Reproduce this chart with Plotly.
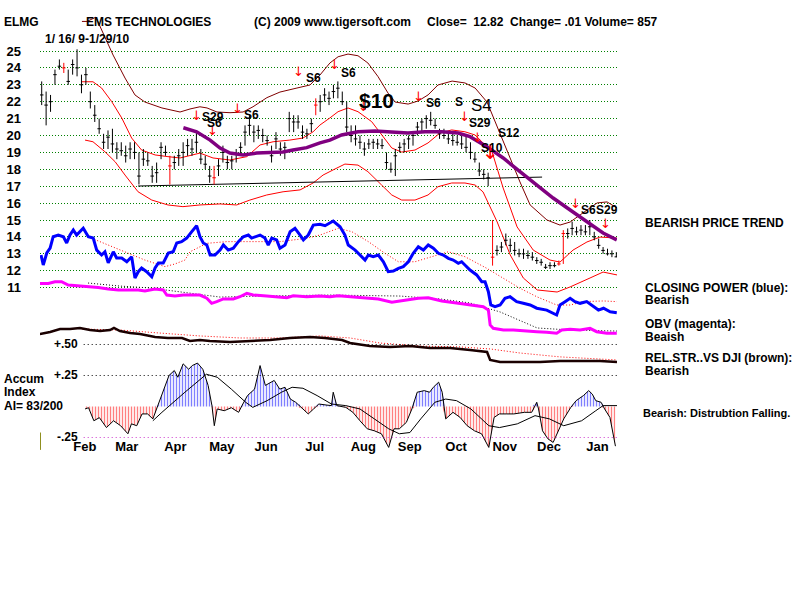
import plotly.graph_objects as go

# ---------------- data ----------------
months = ["Feb", "Mar", "Apr", "May", "Jun", "Jul", "Aug", "Sep", "Oct", "Nov", "Dec", "Jan"]
month_start = [10, 29, 51, 72, 92, 114, 136, 157, 178, 200, 220, 242]   # trading-day index
price_ticks = list(range(11, 26))

bar_day = list(range(0, 261, 2))
bar_high = [23.2, 22.6, 22.4, 23.9, 24.5, 24.3, 23.9, 24.5, 25.1, 23.6,
            24.0, 22.6, 21.8, 21.0, 20.1, 20.3, 20.4, 19.6, 19.6, 19.4,
            19.6, 19.6, 19.0, 19.2, 19.0, 18.2, 18.4, 19.6, 19.4, 18.8,
            18.8, 19.2, 19.6, 19.8, 19.8, 20.2, 19.2, 18.8, 18.2, 18.2,
            18.6, 19.4, 18.8, 18.8, 19.2, 19.6, 20.6, 21.2, 20.6, 20.6,
            20.4, 20.0, 19.4, 20.2, 19.6, 19.6, 21.4, 21.2, 21.2, 20.6,
            20.4, 21.0, 22.2, 22.4, 22.8, 22.6, 23.0, 23.2, 22.6, 22.0,
            20.6, 20.6, 20.0, 19.6, 19.8, 19.8, 19.8, 19.8, 19.0, 18.4,
            19.2, 19.6, 19.8, 20.0, 20.2, 20.8, 21.0, 21.2, 21.4, 21.0,
            20.4, 20.4, 20.2, 20.2, 20.0, 20.0, 20.0, 19.6, 19.0, 18.4,
            18.0, 17.8, 15.0, 13.5, 13.7, 14.2, 13.9, 13.7, 13.3, 13.3,
            13.2, 13.1, 12.8, 12.7, 12.4, 12.5, 12.5, 12.6, 14.4, 14.5,
            14.9, 14.6, 14.7, 14.7, 15.0, 14.3, 13.9, 13.4, 13.3, 13.2,
            13.1]
bar_low = [21.8, 20.6, 21.4, 23.0, 23.9, 23.7, 23.0, 23.6, 23.5, 22.5,
           23.0, 21.6, 20.8, 20.1, 19.2, 19.2, 19.0, 18.6, 18.8, 18.4,
           18.6, 18.6, 17.1, 18.2, 18.2, 17.2, 17.2, 18.6, 18.8, 17.1,
           18.0, 18.2, 18.2, 18.8, 18.8, 19.0, 18.3, 18.0, 17.2, 17.1,
           17.6, 18.4, 18.0, 18.0, 18.4, 18.8, 19.4, 20.0, 19.6, 19.8,
           19.6, 19.4, 18.4, 19.2, 18.8, 18.6, 20.2, 20.2, 20.4, 19.8,
           19.8, 20.2, 21.2, 21.4, 22.0, 21.8, 22.2, 22.2, 21.8, 20.2,
           19.6, 19.4, 19.2, 18.8, 19.2, 19.2, 19.2, 19.2, 18.0, 17.8,
           17.6, 19.0, 19.0, 19.2, 19.4, 20.0, 20.2, 20.4, 20.6, 20.4,
           19.8, 19.8, 19.5, 19.4, 19.4, 19.2, 19.0, 18.6, 18.4, 17.6,
           17.4, 17.0, 12.3, 12.9, 13.1, 13.5, 13.1, 12.9, 12.8, 12.7,
           12.7, 12.6, 12.4, 12.3, 12.1, 12.1, 12.2, 12.3, 12.4, 13.9,
           14.1, 14.1, 14.1, 14.1, 14.1, 13.8, 13.3, 13.0, 12.9, 12.8,
           12.8]
bar_close = [22.4, 21.8, 22.0, 23.6, 24.1, 24.0, 23.2, 24.2, 24.0, 23.0,
             23.6, 22.0, 21.2, 20.4, 19.6, 19.9, 19.5, 19.2, 19.1, 18.8,
             19.2, 19.0, 17.6, 18.6, 18.5, 17.6, 17.8, 19.3, 19.0, 18.2,
             18.4, 18.8, 19.0, 19.4, 19.2, 19.6, 18.6, 18.3, 17.6, 17.5,
             18.2, 19.0, 18.4, 18.5, 18.9, 19.3, 20.2, 20.6, 20.2, 20.3,
             20.0, 19.7, 18.8, 19.8, 19.2, 19.3, 21.0, 20.8, 20.8, 20.2,
             20.1, 20.7, 21.8, 22.0, 22.4, 22.2, 22.6, 22.8, 22.0, 20.5,
             20.0, 19.8, 19.6, 19.2, 19.5, 19.6, 19.5, 19.4, 18.4, 18.0,
             18.8, 19.3, 19.5, 19.8, 20.0, 20.5, 20.8, 21.0, 20.9, 20.6,
             20.1, 20.0, 19.8, 19.7, 19.6, 19.5, 19.3, 19.0, 18.6, 17.9,
             17.7, 17.5, 12.8, 13.2, 13.4, 13.8, 13.5, 13.2, 13.0, 13.0,
             12.9, 12.8, 12.6, 12.5, 12.2, 12.3, 12.3, 12.4, 14.2, 14.2,
             14.5, 14.3, 14.4, 14.3, 14.6, 14.0, 13.5, 13.2, 13.0, 13.0,
             12.82]
red_bar_days = [10, 58, 78, 124, 204, 234, 236]

# outer (dark red) upper band
outer_day = [18.2, 20.5, 24.5, 32.3, 37.7, 42.2, 46.7, 54.4, 62.6, 67.1, 71.6, 74.8, 79.3, 85.2,
             91.1, 95.6, 101.9, 107.8, 115.5, 121.4, 125.9, 130.4, 134.1, 138.6, 143.1, 147.6,
             152.2, 156.7, 159.9, 165.8, 170.3, 174.8, 179.3, 185.7, 191.5, 196.1, 201.5, 208.8,
             216.4, 221.0, 228.6, 234.5, 239.1, 243.6, 251.3, 255.8, 260.3]
outer_val = [26.75, 26.75, 27.0, 24.76, 23.40, 22.40, 21.98, 21.63, 21.39, 21.57, 21.70, 21.63, 21.39,
             21.35, 21.39, 21.70, 22.24, 22.57, 22.81, 22.99, 23.58, 24.29, 24.66, 24.82, 24.72,
             24.29, 23.48, 22.51, 21.98, 21.86, 22.04, 22.40, 22.99, 23.22, 23.11, 22.81, 21.98,
             19.62, 17.25, 15.89, 15.00, 14.70, 14.88, 15.30, 16.01, 16.07, 15.71]

# inner (red) upper band
upper_day = [18.1, 23.2, 27.1, 31.7, 36.2, 40.7, 45.2, 51.3, 57.1, 62.6, 71.6, 77.5, 85.2, 92.8,
             98.8, 104.7, 112.3, 118.2, 122.8, 125.9, 130.4, 134.1, 138.6, 143.1, 149.3, 153.8,
             158.4, 162.9, 168.9, 174.8, 180.2, 185.5, 191.5, 196.1, 200.6, 203.8, 208.8, 215.1,
             222.4, 230.0, 234.5, 240.4, 246.7, 252.6, 260.3]
upper_val = [23.18, 23.18, 22.81, 22.00, 21.04, 19.85, 19.14, 18.85, 18.75, 18.67, 18.96, 18.67,
             18.55, 18.75, 19.44, 19.63, 19.73, 19.85, 20.22, 20.62, 21.04, 21.41, 21.63, 21.41,
             20.82, 20.03, 19.26, 19.02, 19.14, 19.56, 20.15, 20.33, 20.22, 20.03, 19.44, 19.02,
             16.89, 14.59, 13.22, 12.63, 12.51, 13.22, 13.70, 13.99, 13.93]

# red lower band
lower_day = [19.6, 23.2, 28.6, 33.2, 37.7, 43.6, 49.8, 57.1, 63.9, 71.6, 80.7, 88.2, 94.2, 101.8,
             109.2, 116.9, 122.8, 127.3, 132.7, 137.2, 143.1, 147.6, 153.8, 158.4, 162.9, 168.9,
             174.8, 179.3, 185.5, 191.5, 196.1, 199.7, 206.1, 212.0, 217.9, 224.2, 233.2, 239.1,
             248.1, 254.0, 260.3]
lower_val = [19.73, 19.63, 19.04, 18.45, 17.66, 16.67, 16.18, 15.89, 15.79, 15.89, 15.95, 15.89,
             16.18, 16.48, 16.67, 16.78, 17.19, 17.66, 18.02, 18.31, 18.25, 17.86, 17.07, 16.48,
             16.18, 16.18, 16.48, 16.97, 17.19, 17.19, 17.07, 16.66, 14.88, 12.93, 11.57, 10.86,
             10.74, 11.04, 11.57, 11.92, 11.75]

# purple moving average
ma_day = [64.1, 70.1, 76.2, 80.7, 85.2, 91.1, 97.3, 103.3, 109.2, 113.7, 119.9, 125.9, 130.4, 135.7,
          143.1, 150.8, 158.4, 165.7, 173.4, 181.0, 188.4, 193.8, 201.4, 208.8, 216.4, 224.0,
          231.4, 239.1, 246.6, 254.0, 260.2]
ma_val = [20.46, 20.22, 19.73, 19.26, 18.96, 18.85, 18.96, 18.98, 19.02, 19.14, 19.28, 19.56, 19.73,
          20.03, 20.22, 20.27, 20.21, 20.15, 20.22, 20.22, 20.15, 19.93, 19.34, 18.67, 17.86, 17.07,
          16.30, 15.59, 14.90, 14.23, 13.82]

# black support line
support_day = [43.6, 226.4]
support_val = [17.01, 17.54]

# closing power (blue), on the price scale
cp_day = [-0.3, 0.7, 2.3, 3.8, 5.2, 7.5, 9.8, 11.3, 12.8, 14.3, 15.8, 17.3, 18.8, 21.1, 23.3, 24.9,
          27.1, 28.6, 30.1, 32.4, 33.9, 36.2, 38.5, 40.7, 42.2, 43.7, 45.2, 47.5, 49.8, 51.3, 52.8,
          55.0, 57.3, 59.5, 61.1, 63.3, 65.6, 67.9, 70.1, 71.6, 73.1, 74.7, 76.2, 78.4, 80.7, 82.2,
          84.4, 86.7, 89.0, 91.2, 93.5, 95.0, 96.5, 98.8, 101.0, 102.5, 104.1, 106.3, 107.8, 110.1,
          112.4, 114.6, 116.9, 118.4, 120.6, 122.9, 125.9, 128.2, 131.9, 135.0, 137.2, 138.7, 141.8,
          144.0, 146.3, 147.8, 150.0, 152.3, 154.6, 156.8, 159.1, 161.4, 163.6, 165.9, 168.1, 170.4,
          172.7, 174.9, 177.2, 179.5, 181.7, 184.0, 186.2, 188.5, 190.0, 191.5, 193.8, 196.8, 199.1,
          200.6, 202.1, 203.2, 205.1, 207.4, 209.6, 211.9, 214.9, 217.9, 221.0, 224.0, 228.5, 233.0,
          234.5, 236.8, 239.1, 241.3, 243.6, 246.6, 249.6, 251.9, 254.2, 257.2, 260.2]
cp_val = [12.93, 12.34, 13.05, 13.34, 14.01, 14.11, 14.01, 13.64, 14.11, 14.41, 14.11, 14.31, 14.51,
          14.01, 13.93, 13.22, 12.93, 13.12, 12.46, 13.12, 12.75, 12.75, 12.53, 12.83, 11.57, 11.94,
          12.16, 11.94, 11.64, 12.16, 12.46, 12.46, 13.05, 13.12, 13.64, 13.72, 13.93, 14.31, 14.66,
          14.01, 13.64, 13.52, 12.93, 12.93, 13.22, 13.52, 13.22, 13.33, 13.72, 14.01, 14.11, 13.93,
          14.01, 14.11, 13.93, 13.52, 13.93, 13.82, 13.33, 13.52, 14.31, 14.51, 14.11, 13.82, 14.11,
          14.70, 14.75, 14.66, 14.94, 14.60, 14.11, 13.52, 13.22, 12.93, 12.63, 12.93, 12.83, 12.93,
          12.53, 11.94, 11.98, 12.14, 12.24, 12.53, 13.03, 13.42, 13.22, 13.52, 13.33, 13.03, 12.93,
          12.73, 12.63, 12.44, 12.53, 12.34, 12.04, 11.75, 11.35, 11.35, 10.76, 9.97, 9.87, 9.97,
          10.37, 10.46, 10.17, 10.07, 9.97, 9.78, 9.67, 9.38, 9.97, 10.17, 10.37, 10.17, 10.07, 10.17,
          9.87, 9.67, 9.78, 9.57, 9.51]
cp_ma_day = [22.6, 35.4, 46.7, 55.8, 60.3, 64.8, 67.1, 74.7, 83.7, 92.8, 107.8, 119.9, 125.9, 134.2,
             140.3, 147.8, 155.3, 161.4, 168.9, 176.5, 184.0, 191.5, 196.1, 201.4, 208.9, 216.4,
             224.0, 233.0, 239.1, 245.1, 254.2, 260.2]
cp_ma_val = [13.92, 13.22, 12.63, 12.24, 12.40, 12.63, 13.12, 13.62, 13.72, 13.72, 13.72, 13.92,
             14.11, 14.51, 14.31, 13.72, 13.03, 12.53, 12.53, 12.83, 13.12, 12.83, 12.53, 12.14,
             11.55, 10.96, 10.46, 9.97, 9.97, 10.17, 10.21, 10.17]

# OBV (magenta), on the price scale
obv_day = [-0.8, 3.0, 6.0, 9.0, 12.0, 16.6, 21.1, 25.6, 30.1, 34.7, 39.2, 43.7, 46.7, 51.3, 55.0,
           56.6, 60.3, 64.1, 67.1, 71.6, 74.7, 76.9, 79.2, 82.2, 86.7, 89.7, 92.8, 95.7, 101.8,
           107.8, 110.9, 113.8, 119.9, 125.9, 130.4, 134.2, 140.3, 146.3, 152.3, 158.4, 164.4,
           170.4, 174.9, 181.0, 188.5, 193.8, 199.8, 202.1, 202.9, 204.3, 208.9, 213.4, 217.9,
           224.0, 228.5, 233.0, 235.3, 239.1, 243.6, 248.1, 251.1, 255.7, 260.2]
obv_val = [11.25, 11.25, 11.35, 11.35, 11.15, 11.11, 11.05, 11.00, 10.92, 10.86, 10.86, 10.86,
           10.80, 10.92, 10.86, 10.56, 10.50, 10.56, 10.56, 10.56, 10.37, 10.07, 10.17, 10.33,
           10.33, 10.46, 10.66, 10.56, 10.50, 10.46, 10.40, 10.52, 10.46, 10.50, 10.46, 10.52,
           10.46, 10.40, 10.33, 10.13, 10.27, 10.37, 10.40, 10.21, 10.07, 9.97, 9.87, 9.67, 8.79,
           8.59, 8.49, 8.49, 8.43, 8.39, 8.36, 8.30, 8.49, 8.53, 8.49, 8.59, 8.39, 8.30, 8.30]
obv_ma_day = [21.0, 35.4, 49.0, 63.9, 80.7, 98.8, 130.4, 162.1, 180.2, 193.8, 207.4, 224.2, 239.1, 260.3]
obv_ma_val = [11.27, 11.09, 10.98, 10.74, 10.44, 10.50, 10.56, 10.50, 10.33, 10.09, 9.56, 8.61, 8.49, 8.43]

# relative strength vs DJI, on the price scale
rs_day = [-0.8, 3.8, 8.3, 12.8, 17.3, 21.9, 26.4, 30.9, 32.7, 35.4, 40.0, 44.5, 51.3, 57.1, 63.5,
          67.1, 71.6, 76.1, 85.2, 94.2, 103.3, 112.3, 121.4, 128.2, 135.9, 139.5, 148.5, 157.6,
          166.7, 175.7, 184.8, 193.8, 198.3, 201.5, 202.9, 207.4, 216.4, 225.5, 234.5, 243.6,
          252.6, 260.3]
rs_val = [8.25, 8.37, 8.55, 8.55, 8.61, 8.49, 8.43, 8.49, 8.61, 8.43, 8.31, 8.25, 8.08, 8.02, 8.02,
          7.84, 7.90, 7.84, 7.78, 7.84, 7.90, 8.02, 8.08, 8.02, 7.90, 7.72, 7.54, 7.49, 7.54, 7.43,
          7.43, 7.31, 7.25, 7.19, 6.72, 6.60, 6.60, 6.60, 6.66, 6.66, 6.66, 6.60]
rs_ma_day = [18.2, 35.4, 53.5, 71.6, 89.7, 107.8, 125.9, 139.5, 153.1, 171.2, 189.3, 202.9, 216.4,
             234.5, 260.3]
rs_ma_val = [8.55, 8.49, 8.31, 8.14, 8.02, 8.02, 8.14, 8.02, 7.72, 7.54, 7.49, 7.37, 7.13, 6.90, 6.72]

# Accumulation index
acc_day = [19.6, 21.2, 23.6, 26.1, 29.3, 32.5, 35.7, 39.0, 40.6, 43.0, 45.4, 47.9, 50.3, 52.7, 55.2,
           57.6, 60.0, 61.6, 64.0, 66.5, 68.1, 70.5, 72.9, 75.3, 77.0, 78.1, 79.4, 82.6, 85.8, 89.1,
           90.7, 93.1, 96.3, 98.8, 101.2, 103.6, 105.2, 107.7, 110.1, 112.5, 114.9, 118.2, 120.6,
           123.0, 125.4, 128.7, 131.1, 131.9, 133.5, 137.6, 140.8, 144.0, 147.3, 150.5, 153.7,
           157.0, 159.4, 161.8, 165.0, 167.5, 169.9, 173.1, 175.5, 177.2, 179.6, 181.2, 182.8,
           186.1, 189.3, 192.5, 195.8, 199.0, 202.3, 204.7, 207.1, 210.3, 213.6, 218.4, 221.7,
           224.0, 224.8, 226.6, 229.0, 231.4, 233.8, 236.2, 239.4, 241.8, 245.1, 247.5, 249.1,
           250.7, 253.1, 254.7, 257.1, 259.6]
acc_val = [-0.02, -0.01, -0.115, -0.09, -0.17, -0.115, -0.155, -0.22, -0.14, -0.155, -0.06, -0.06,
           -0.10, 0.01, 0.14, 0.25, 0.29, 0.236, 0.344, 0.30, 0.33, 0.35, 0.30, 0.17, 0.01, -0.155,
           -0.02, -0.034, -0.01, -0.047, 0.01, 0.088, 0.14, 0.33, 0.17, 0.196, 0.21, 0.14, 0.155,
           0.06, 0.034, -0.02, -0.06, -0.02, 0.02, 0.012, 0.007, 0.115, 0.007, -0.007, -0.047,
           -0.115, -0.18, -0.196, -0.22, -0.33, -0.18, -0.18, -0.128, -0.02, 0.115, 0.128, 0.115,
           0.155, 0.196, 0.115, -0.10, -0.047, -0.088, -0.155, -0.196, -0.22, -0.33, -0.088, -0.06,
           -0.06, -0.06, -0.047, -0.047, 0.034, -0.02, -0.196, -0.26, -0.29, -0.196, -0.10, -0.007,
           0.047, 0.088, 0.128, 0.10, 0.047, 0.034, -0.02, -0.088, -0.32]
acc_ma_day = [50.3, 54.4, 64.8, 74.5, 79.4, 85.8, 92.3, 95.5, 102.0, 108.5, 113.3, 118.2, 124.6,
              131.1, 137.6, 144.0, 150.5, 157.0, 161.8, 166.6, 171.5, 177.9, 182.8, 187.7, 194.2,
              202.3, 207.1, 215.2, 223.2, 229.7, 236.2, 244.3, 250.7, 254.0, 260.3]
acc_ma_val = [-0.115, -0.047, 0.115, 0.26, 0.236, 0.14, 0.034, -0.007, 0.047, 0.115, 0.155, 0.147,
              0.088, 0.02, 0.007, -0.02, -0.10, -0.18, -0.22, -0.21, -0.10, 0.034, 0.06, 0.047,
              -0.02, -0.155, -0.17, -0.14, -0.074, -0.10, -0.155, -0.115, -0.034, 0.007, 0.007]
acc_levels = [0.50, 0.25, -0.25]
acc_level_text = ["+.50", "+.25", "-.25"]

# sell signals
arrow_day = [70.1, 77.5, 88.8, 116.0, 132.3, 145.4, 170.3, 191.5, 197.4, 202.9, 241.3, 254.9]
arrow_val = [21.2, 20.3, 21.6, 23.8, 24.2, 21.7, 22.3, 21.1, 19.9, 19.0, 16.0, 14.8]
arrow_big = [False, False, False, False, False, False, False, False, False, True, False, False]
sig_text = ["S29", "S6", "S6", "S6", "S6", "$10", "S6", "S", "S4", "S29", "S12", "S10", "S6", "S29"]
sig_day = [77.5, 78.0, 94.7, 122.8, 138.6, 151.3, 177.1, 189.0, 199.2, 198.3, 211.4, 203.8, 247.6, 255.8]
sig_val = [21.09, 20.74, 21.21, 23.40, 23.70, 22.10, 21.92, 21.98, 21.80, 20.74, 20.15, 19.26, 15.59, 15.59]
sig_style = ["n", "n", "n", "n", "n", "big", "n", "n", "s4", "n", "n", "n", "n", "n"]

# ---------------- figure ----------------
FONT = "Liberation Sans"
fig = go.Figure()


def line(x, y, color, width, dash=None, yaxis="y"):
    fig.add_trace(go.Scatter(x=x, y=y, mode="lines", yaxis=yaxis,
                             line=dict(color=color, width=width, dash=dash),
                             hoverinfo="skip", showlegend=False))


# bands
line(outer_day, outer_val, "#800000", 1)
line(upper_day, upper_val, "#ff0000", 1)
line(lower_day, lower_val, "#ff0000", 1)
line(support_day, support_val, "#000000", 1)

# indicators
line(cp_ma_day, cp_ma_val, "#ff0000", 1, "1px,2px")
line(cp_day, cp_val, "#0000ff", 3)
line(obv_ma_day, obv_ma_val, "#000000", 1, "1px,2px")
line(obv_day, obv_val, "#ff00ff", 3)
line(rs_ma_day, rs_ma_val, "#ff0000", 1, "1px,2px")
line(rs_day, rs_val, "#1a0000", 2.5)

# accumulation index
pos = [max(v, 0) for v in acc_val]
neg = [min(v, 0) for v in acc_val]
fig.add_trace(go.Scatter(x=acc_day, y=pos, yaxis="y2", mode="lines", fill="tozeroy",
                         line=dict(width=0), fillcolor="white",
                         fillpattern=dict(shape="|", fgcolor="#0000ff", bgcolor="white",
                                          size=3, solidity=0.45),
                         hoverinfo="skip", showlegend=False))
fig.add_trace(go.Scatter(x=acc_day, y=neg, yaxis="y2", mode="lines", fill="tozeroy",
                         line=dict(width=0), fillcolor="white",
                         fillpattern=dict(shape="|", fgcolor="#ff0000", bgcolor="white",
                                          size=3, solidity=0.45),
                         hoverinfo="skip", showlegend=False))
line(acc_day, acc_val, "#000000", 1, yaxis="y2")
line(acc_ma_day, acc_ma_val, "#000000", 1, yaxis="y2")
for lv in acc_levels:
    line([19, 260.3], [lv, lv], "#cc33cc" if lv < 0 else "#000000", 1, "1px,3px", yaxis="y2")
line([-0.6, -0.6], [-0.21, -0.35], "#808000", 1, yaxis="y2")


# price bars
def segments(days):
    xs, ys = [], []
    for d in days:
        k = bar_day.index(d)
        xs += [d, d, None, d - 0.8, d + 0.8, None]
        ys += [bar_low[k], bar_high[k], None, bar_close[k], bar_close[k], None]
    return xs, ys


bx, by = segments([d for d in bar_day if d not in red_bar_days])
line(bx, by, "#000000", 1)
rx, ry = segments(red_bar_days)
line(rx, ry, "#ff0000", 1)

# purple MA on top
line(ma_day, ma_val, "#800080", 3.5)

ann = []
for d, v, big in zip(arrow_day, arrow_val, arrow_big):
    ann.append(dict(x=d, y=v, xref="x", yref="y", text="↓", showarrow=False,
                    font=dict(family="DejaVu Sans", size=20 if big else 13, color="#ff0000")))
for t, d, v, s in zip(sig_text, sig_day, sig_val, sig_style):
    if s == "big":
        f = dict(family=FONT, size=21, color="black")
        t = f"<b>{t}</b>"
    elif s == "s4":
        f = dict(family=FONT, size=17, color="black")
    else:
        f = dict(family=FONT, size=12, color="black")
        t = f"<b>{t}</b>"
    ann.append(dict(x=d, y=v, xref="x", yref="y", text=t, showarrow=False, font=f))

for lv, txt in zip(acc_levels, acc_level_text):
    ann.append(dict(x=80 / 800, y=lv, xref="paper", yref="y2", xanchor="right", yanchor="middle",
                    text=f"<b>{txt}</b>", showarrow=False,
                    font=dict(family=FONT, size=12, color="black")))


def ptext(txt, px, py, size=12):
    ann.append(dict(x=px / 800, y=1 - py / 600, xref="paper", yref="paper", xanchor="left",
                    yanchor="middle", text=f"<b>{txt}</b>", showarrow=False,
                    font=dict(family=FONT, size=size, color="black")))


NB = "\u00a0"
ptext("ELMG", 2, 22)
ptext("EMS TECHNOLOGIES", 84, 22)
ptext("(C) 2009 www.tigersoft.com", 252, 22)
ptext(f"Close={NB}{NB}12.82{NB}{NB}Change= .01 Volume= 857", 425, 22)
ptext(f"1/{NB}16/{NB}9-1/29/10", 43, 39)
ptext("Accum", 2, 379)
ptext("Index", 2, 392)
ptext("AI= 83/200", 2, 406)
ptext("BEARISH PRICE TREND", 643, 223)
ptext("CLOSING POWER (blue):", 643, 288)
ptext("Bearish", 643, 300)
ptext("OBV (magenta):", 643, 324)
ptext("Beaish", 643, 337)
ptext("REL.STR..VS DJI (brown):", 643, 358)
ptext("Bearish", 643, 371)
ptext("Bearish: Distrubtion Falling.", 641, 413, size=11)

fig.update_layout(
    width=800, height=600, margin=dict(l=0, r=0, t=0, b=0),
    paper_bgcolor="white", plot_bgcolor="white", showlegend=False, hovermode=False,
    xaxis=dict(domain=[40 / 800, 617 / 800], range=[-0.77, 260.3],
               tickvals=[m + 9.5 for m in month_start],
               ticktext=[f"<b>{m}</b>" for m in months],
               anchor="free", position=1 - 437 / 600,
               showgrid=False, zeroline=False, showline=False, ticks="",
               tickfont=dict(family=FONT, size=13, color="black")),
    yaxis=dict(domain=[0, 1], range=[-7.485, 28.018], tickvals=price_ticks,
               ticktext=[f"<b>{t}</b>" for t in price_ticks],
               showgrid=True, gridcolor="#008000", griddash="1px,2px", gridwidth=1,
               zeroline=False, showline=False, ticks="", ticklabelstandoff=18,
               tickfont=dict(family=FONT, size=13, color="black")),
    yaxis2=dict(overlaying="y", range=[-1.5605, 3.278], visible=False),
    annotations=ann,
)

fig.write_html("out.html", config={"displayModeBar": False})
